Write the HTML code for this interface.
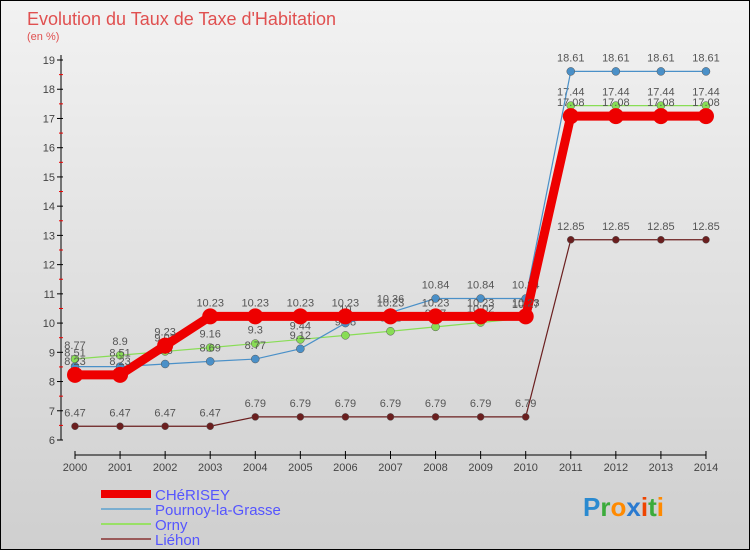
<!DOCTYPE html>
<html><head><meta charset="utf-8"><style>
body{margin:0;width:750px;height:550px;overflow:hidden;font-family:"Liberation Sans",sans-serif}
#wrap{position:relative;width:748px;height:548px;border:1px solid #000;background:linear-gradient(#f2f2f2,#cfcfcf)}
</style></head><body>
<div id="wrap">
<svg id="chart" width="748" height="548"></svg>
</div>
<script>
const years=[2000,2001,2002,2003,2004,2005,2006,2007,2008,2009,2010,2011,2012,2013,2014];
const cherisey=[8.23,8.23,9.23,10.23,10.23,10.23,10.23,10.23,10.23,10.23,10.23,17.08,17.08,17.08,17.08];
const pournoy=[8.51,8.51,8.6,8.69,8.77,9.12,10,10.36,10.84,10.84,10.84,18.61,18.61,18.61,18.61];
const orny=[8.77,8.9,9.03,9.16,9.3,9.44,9.58,9.72,9.87,10.02,10.17,17.44,17.44,17.44,17.44];
const liehon=[6.47,6.47,6.47,6.47,6.79,6.79,6.79,6.79,6.79,6.79,6.79,12.85,12.85,12.85,12.85];
const yTicks=[6,7,8,9,10,11,12,13,14,15,16,17,18,19];
const NS='http://www.w3.org/2000/svg';
const svg=document.getElementById('chart');
const x=i=>74+i*45.07;
const y=v=>439-(v-6)*29.23;
function el(t,a,p){const e=document.createElementNS(NS,t);for(const k in a)e.setAttribute(k,a[k]);(p||svg).appendChild(e);return e;}
let t=el('text',{x:26,y:24,'font-size':18,fill:'#e05050'});t.textContent='Evolution du Taux de Taxe d\'Habitation';

t=el('text',{x:26,y:39,'font-size':11,fill:'#e05050'});t.textContent='(en %)';

let ax=el('line',{x1:60,y1:y(19)-5,x2:60,y2:y(6),stroke:'#000'});

yTicks.forEach(v=>{el('line',{x1:56,x2:62,y1:y(v),y2:y(v),stroke:'#000'});
if(v<19)el('line',{x1:58,x2:62,y1:y(v+.5),y2:y(v+.5),stroke:'#e00'});
const l=el('text',{x:54,y:y(v)+4,'font-size':11,fill:'#444','text-anchor':'end'});l.textContent=v;
});
ax=el('line',{x1:74,y1:454,x2:x(14),y2:454,stroke:'#000'});

years.forEach((yr,i)=>{el('line',{x1:x(i),x2:x(i),y1:450,y2:458,stroke:'#000'});
const l=el('text',{x:x(i),y:470,'font-size':11,fill:'#444','text-anchor':'middle'});l.textContent=yr;
});
const series=[
{name:'liehon',d:liehon,c:'#6b1f1f',w:1.2,r:3.5},
{name:'orny',d:orny,c:'#88dd55',w:1.2,r:4},
{name:'pournoy',d:pournoy,c:'#4a90c8',w:1.2,r:4},
{name:'cherisey',d:cherisey,c:'#ee0000',w:9,r:8}];
series.forEach(s=>{
const p=el('polyline',{points:s.d.map((v,i)=>x(i)+','+y(v)).join(' '),fill:'none',stroke:s.c,'stroke-width':s.w});

s.d.forEach((v,i)=>{const c=el('circle',{cx:x(i),cy:y(v),r:s.r,fill:s.c,stroke:'#555','stroke-width':s.name=='cherisey'?0:0.5});

const l=el('text',{x:x(i),y:y(v)-10,'font-size':11,fill:'#555','text-anchor':'middle'});l.textContent=v;
});});
const leg=[['CHéRISEY','#ee0000',8],['Pournoy-la-Grasse','#7aaed0',2],['Orny','#99e066',2],['Liéhon','#9a5a5a',2]];
leg.forEach((L,i)=>{const yy=493+i*15;
const g=el('g',{});
el('line',{x1:100,x2:150,y1:yy,y2:yy,stroke:L[1],'stroke-width':L[2]},g);
const tt=el('text',{x:154,y:yy+6,'font-size':15,fill:'#5555ff'},g);tt.textContent=L[0];});
const logo=el('text',{x:582,y:515,'font-size':26,'font-weight':'bold'});

[['P','#2a8ad0'],['r','#3bab3b'],['o','#ff8a00'],['x','#2a7ad0'],['i','#ee4400'],['t','#3bab3b'],['i','#ff8a00']].forEach(a=>{const s=el('tspan',{fill:a[1]},logo);s.textContent=a[0];});
</script>
</body></html>
